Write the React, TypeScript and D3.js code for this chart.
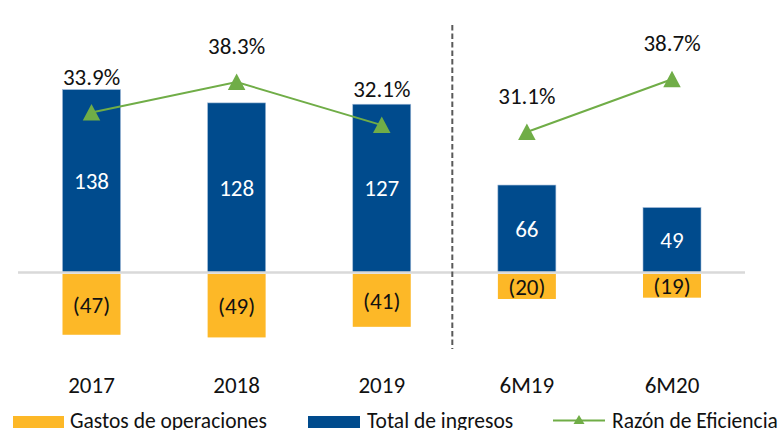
import React from 'react';
import * as d3 from 'd3';

const categories = ['2017', '2018', '2019', '6M19', '6M20'];
const totalIngresos = [138, 128, 127, 66, 49];
const gastosOperaciones = [-47, -49, -41, -20, -19];
const razonEficiencia = [33.9, 38.3, 32.1, 31.1, 38.7];
const seriesNames = ['Gastos de operaciones', 'Total de ingresos', 'Razón de Eficiencia'];
const lineGroups = [['2017', '2018', '2019'], ['6M19', '6M20']];

const BLUE = '#004B8D';
const ORANGE = '#FDB827';
const GREEN = '#70AD47';
const FONT = 'Carlito, Calibri, Lato, sans-serif';
const TRI = 'M0,-8.5L8.75,8L-8.75,8Z';
const TRI_SMALL = 'M0,-5L5.5,4L-5.5,4Z';

export default function App() {
  const W = 779, H = 430;
  const x = d3.scalePoint<string>().domain(categories).range([91.5, 672]);
  const zeroY = 272.5;
  const ppu = 1.325;
  const y = d3.scaleLinear().domain([-60, 150]).range([zeroY + 60 * ppu, zeroY - 150 * ppu]);
  const yR = d3.scaleLinear().domain([0, 50]).range([348, 348 - 50 * 6.944]);
  const bw = 58;
  const idx = (c: string) => categories.indexOf(c);
  const line = d3.line<string>().x(c => x(c)!).y(c => yR(razonEficiencia[idx(c)]));
  const divX = (x('2019')! + x('6M19')!) / 2 - 2;

  return (
    <svg width={W} height={H} style={{ position: 'absolute', left: 0, top: 0, background: '#fff' }} fontFamily={FONT}>
      {/* orange bars */}
      {categories.map((c, i) => (
        <rect key={'o' + c} x={x(c)! - bw / 2} y={y(0) + 1.5} width={bw} height={y(gastosOperaciones[i]) - y(0) - 1.5} fill={ORANGE} />
      ))}
      {/* blue bars */}
      {categories.map((c, i) => (
        <rect key={'b' + c} x={x(c)! - bw / 2} y={y(totalIngresos[i])} width={bw} height={y(0) - y(totalIngresos[i])} fill={BLUE} stroke="#9db7d6" strokeWidth={0.6} />
      ))}
      {/* zero line */}
      <line x1={18} x2={745} y1={y(0)} y2={y(0)} stroke="#D9D9D9" strokeWidth={2.5} />
      {/* divider */}
      <line x1={divX} x2={divX} y1={25} y2={349} stroke="#595959" strokeWidth={2} strokeDasharray="5.5 3" />
      {/* value labels */}
      {categories.map((c, i) => (
        <text key={'tb' + c} x={x(c)} y={(y(totalIngresos[i]) + y(0)) / 2} dy="0.35em" textAnchor="middle" fill="#fff" fontSize={23}>
          {totalIngresos[i]}
        </text>
      ))}
      {categories.map((c, i) => (
        <text key={'to' + c} x={x(c)} y={(y(gastosOperaciones[i]) + y(0)) / 2 + 1} dy="0.35em" textAnchor="middle" fill="#111" fontSize={23}>
          ({Math.abs(gastosOperaciones[i])})
        </text>
      ))}
      {/* line */}
      {lineGroups.map((g, k) => (
        <path key={'l' + k} d={line(g)!} fill="none" stroke={GREEN} strokeWidth={2} />
      ))}
      {categories.map((c, i) => (
        <path key={'m' + c} d={TRI} transform={`translate(${x(c)},${yR(razonEficiencia[i])})`} fill={GREEN} />
      ))}
      {categories.map((c, i) => (
        <text key={'tp' + c} x={x(c)} y={yR(razonEficiencia[i]) - 28} textAnchor="middle" fill="#111" fontSize={23}>
          {razonEficiencia[i].toFixed(1)}%
        </text>
      ))}
      {/* x axis labels */}
      {categories.map(c => (
        <text key={'x' + c} x={x(c)} y={393} textAnchor="middle" fill="#111" fontSize={23}>{c}</text>
      ))}
      {/* legend */}
      <rect x={13} y={416} width={51} height={12} fill={ORANGE} />
      <text x={70} y={428} fontSize={21.5} fill="#111">{seriesNames[0]}</text>
      <rect x={308} y={416} width={52} height={12} fill={BLUE} />
      <text x={367} y={428} fontSize={21.5} fill="#111">{seriesNames[1]}</text>
      <line x1={553} x2={605} y1={420.5} y2={420.5} stroke={GREEN} strokeWidth={2} />
      <path d={TRI_SMALL} transform="translate(579,420)" fill={GREEN} />
      <text x={612} y={428} fontSize={21.5} fill="#111">{seriesNames[2]}</text>
    </svg>
  );
}
